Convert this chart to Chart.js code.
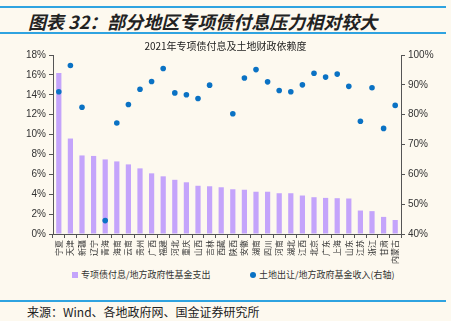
<!DOCTYPE html>
<html>
<head>
<meta charset="utf-8">
<script src="https://cdn.jsdelivr.net/npm/chart.js@4"></script>
<style>
  html, body { margin: 0; padding: 0; background: #fdf9ef; }
  body { width: 451px; height: 321px; position: relative; overflow: hidden; font-family: "Noto Sans CJK SC", sans-serif; }
  .rule { position: absolute; left: 0; width: 446px; height: 2px; background: #2fa3e0; }
  #title { position: absolute; left: 28px; top: 8px; font-size: 18px; font-weight: bold; font-style: italic; color: #222; white-space: nowrap; }
  #source { position: absolute; left: 27px; top: 303px; font-size: 12px; color: #222; white-space: nowrap; }
  #wrap { position: absolute; left: 0; top: 36px; width: 451px; height: 230px; }
  #legend { position: absolute; top: 268px; left: 0; width: 451px; height: 14px; font-size: 9px; color: #333; }
  #legend span.item { position: absolute; top: 0; white-space: nowrap; line-height: 14px; }
  #legend i { display: inline-block; width: 6px; height: 6px; margin-right: 3px; vertical-align: 0px; }
</style>
</head>
<body>
<div class="rule" style="top:6px"></div>
<div id="title">图表 32：部分地区专项债付息压力相对较大</div>
<div class="rule" style="top:32px"></div>
<div id="wrap"><canvas id="chart"></canvas></div>
<div id="legend"></div>
<div class="rule" style="top:300px"></div>
<div id="source">来源：Wind、各地政府网、国金证券研究所</div>
<script>
// regions, sorted by interest burden
const regions = ['宁夏', '天津', '新疆', '辽宁', '青海', '海南', '云南', '贵州', '广西', '福建',
  '河北', '重庆', '山西', '吉林', '西藏', '陕西', '安徽', '湖南', '四川', '河南',
  '湖北', '江西', '北京', '广东', '上海', '山东', '江苏', '浙江', '甘肃', '内蒙古'];

// 专项债付息/地方政府性基金支出 (%)
const interestRatio = [16.2, 9.6, 7.9, 7.85, 7.5, 7.3, 7.0, 6.6, 6.1, 5.8,
  5.45, 5.2, 4.85, 4.8, 4.7, 4.5, 4.45, 4.25, 4.25, 4.1,
  4.1, 3.87, 3.7, 3.63, 3.6, 3.57, 2.36, 2.3, 1.72, 1.41];

// 土地出让/地方政府基金收入 (%), right axis
const landRatio = [87.7, 96.5, 82.5, null, 44.5, 77.2, 83.4, 88.5, 91.1, 95.5,
  87.3, 86.7, 85.4, 89.9, null, 80.3, 92.3, 95.1, 91.0, 88.1,
  87.7, 90.0, 93.9, 92.6, 93.6, 89.5, 77.8, 89.0, 75.4, 83.1];

const leftTicks = [0, 18, 2];
const rightTicks = [40, 100, 10];

const axisColor = '#555';
const labelFont = { family: 'Liberation Sans, Arial, sans-serif', size: 10 };

const chart = new Chart(document.getElementById('chart'), {
  type: 'bar',
  data: {
    labels: regions,
    datasets: [{
      label: '专项债付息/地方政府性基金支出',
      data: interestRatio,
      backgroundColor: '#c4a4fb',
      barPercentage: 0.45,
      categoryPercentage: 1,
      yAxisID: 'y',
      order: 2
    }, {
      type: 'line',
      label: '土地出让/地方政府基金收入(右轴)',
      data: landRatio,
      showLine: false,
      pointRadius: 2.8,
      pointBackgroundColor: '#0a72c4',
      pointBorderWidth: 0,
      backgroundColor: '#0a72c4',
      borderColor: '#0a72c4',
      yAxisID: 'y1',
      order: 1
    }]
  },
  options: {
    responsive: true,
    maintainAspectRatio: false,
    animation: false,
    layout: { padding: 0 },
    plugins: {
      title: {
        display: true,
        text: '2021年专项债付息及土地财政依赖度',
        color: '#222',
        font: { family: 'Noto Sans CJK SC', size: 10, weight: 'normal' },
        padding: { top: 4, bottom: 3 }
      },
      legend: { display: false },
      tooltip: { enabled: false }
    },
    scales: {
      x: {
        offset: true,
        grid: { display: true, drawOnChartArea: false, offset: true, tickLength: 4, color: axisColor },
        border: { color: axisColor },
        ticks: {
          autoSkip: false,
          minRotation: 90,
          maxRotation: 90,
          padding: 2,
          color: '#333',
          font: { family: 'Noto Sans CJK SC', size: 8 }
        },
        afterFit: s => { s.height = 32; }
      },
      y: {
        position: 'left',
        min: leftTicks[0],
        max: leftTicks[1],
        grid: { display: true, drawOnChartArea: false, tickLength: 4, color: axisColor },
        border: { color: axisColor },
        ticks: {
          stepSize: leftTicks[2],
          padding: 3,
          color: '#333',
          font: labelFont,
          callback: v => v + '%'
        },
        afterFit: s => { s.width = 53; }
      },
      y1: {
        position: 'right',
        min: rightTicks[0],
        max: rightTicks[1],
        grid: { display: true, drawOnChartArea: false, tickLength: 4, color: axisColor },
        border: { color: axisColor },
        ticks: {
          stepSize: rightTicks[2],
          padding: 3,
          color: '#333',
          font: labelFont,
          callback: v => v + '%'
        },
        afterFit: s => { s.width = 50; }
      }
    }
  }
});

// html legend built from the datasets
const legendX = [72, 250];
const legendBox = document.getElementById('legend');
chart.data.datasets.forEach((ds, i) => {
  const item = document.createElement('span');
  item.className = 'item';
  item.style.left = legendX[i] + 'px';
  const mark = document.createElement('i');
  mark.style.background = ds.backgroundColor;
  if (ds.type === 'line') mark.style.borderRadius = '50%';
  item.appendChild(mark);
  item.appendChild(document.createTextNode(ds.label));
  legendBox.appendChild(item);
});
</script>
</body>
</html>
